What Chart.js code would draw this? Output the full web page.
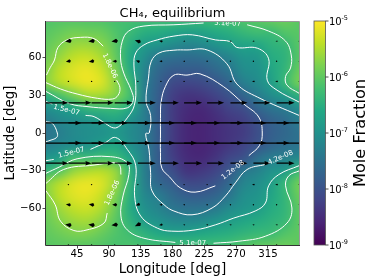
<!DOCTYPE html>
<html>

<head>
  <title>CH4 equilibrium</title>
  <meta charset="UTF-8">
  <style type="text/css">
    html, body { margin: 0; padding: 0; background: #fff; }
    canvas { display: block; }
  </style>
  <script src="https://cdn.jsdelivr.net/npm/chart.js"></script>
</head>

<body>
  <canvas id="graphCanvas" width="374" height="280"></canvas>

  <script>
    const lonTicks = [45, 90, 135, 180, 225, 270, 315];
    const latTicks = [-60, -30, 0, 30, 60];
    const cbarExponents = [-5, -6, -7, -8, -9];

    // log10 mole fraction, rows lat 90 to -90 (step 10), columns lon 0 to 360 (step 20)
    const gridLon = [0, 20, 40, 60, 80, 100, 120, 140, 160, 180, 200, 220, 240, 260, 280, 300, 320, 340, 360];
    const gridLat = [90, 80, 70, 60, 50, 40, 30, 20, 10, 0, -10, -20, -30, -40, -50, -60, -70, -80, -90];
    const logFraction = [
      [-6.12, -6.08, -6.08, -6.1, -6.12, -6.2, -6.22, -6.25, -6.25, -6.27, -6.3, -6.33, -6.25, -6.2, -6.12, -6.05, -5.95, -5.9, -6.05],
      [-6.05, -5.95, -5.85, -5.88, -5.92, -6.12, -6.3, -6.5, -6.55, -6.65, -6.75, -6.72, -6.58, -6.5, -6.35, -6.25, -6.28, -6.1, -6.05],
      [-5.98, -5.8, -5.62, -5.6, -5.72, -6.05, -6.5, -6.82, -6.95, -7.1, -7.2, -7.15, -6.98, -6.8, -6.68, -6.65, -6.45, -6.35, -6.05],
      [-5.9, -5.62, -5.38, -5.32, -5.52, -5.98, -6.6, -7.05, -7.45, -7.55, -7.6, -7.55, -7.42, -7.2, -6.95, -6.92, -6.55, -6.42, -6.05],
      [-5.8, -5.4, -5.2, -5.12, -5.32, -5.82, -6.55, -7.2, -7.65, -7.85, -7.85, -7.85, -7.65, -7.45, -7.08, -7.0, -6.65, -6.38, -5.92],
      [-5.74, -5.45, -5.25, -5.12, -5.22, -5.7, -6.32, -7.28, -7.75, -8.1, -8.15, -8.1, -7.95, -7.7, -7.3, -7.1, -6.78, -6.32, -5.82],
      [-6.5, -6.15, -5.82, -5.55, -5.55, -5.75, -6.2, -7.32, -7.82, -8.25, -8.4, -8.35, -8.2, -7.98, -7.7, -7.35, -7.05, -6.82, -6.45],
      [-7.0, -6.85, -6.6, -6.35, -6.3, -6.29, -6.55, -7.3, -7.85, -8.3, -8.5, -8.55, -8.4, -8.2, -8.05, -7.7, -7.45, -7.32, -7.0],
      [-7.35, -7.15, -7.05, -6.95, -6.8, -6.65, -7.0, -7.3, -7.85, -8.3, -8.55, -8.6, -8.5, -8.35, -8.25, -8.0, -7.75, -7.6, -7.3],
      [-7.5, -7.3, -7.12, -7.05, -7.0, -6.9, -7.1, -7.32, -7.85, -8.3, -8.55, -8.6, -8.5, -8.4, -8.3, -8.05, -7.8, -7.65, -7.5],
      [-7.3, -7.15, -7.05, -6.95, -6.72, -6.6, -7.0, -7.3, -7.85, -8.3, -8.55, -8.6, -8.5, -8.35, -8.2, -7.95, -7.7, -7.55, -7.45],
      [-6.9, -6.75, -6.2, -6.28, -6.2, -6.28, -6.65, -7.28, -7.85, -8.25, -8.5, -8.55, -8.4, -8.15, -8.0, -7.55, -7.3, -7.25, -7.1],
      [-6.4, -6.1, -5.65, -5.5, -5.45, -5.65, -6.45, -7.28, -7.8, -8.05, -8.4, -8.35, -8.2, -7.92, -7.45, -7.25, -6.98, -6.82, -6.29],
      [-5.74, -5.45, -5.2, -5.12, -5.22, -5.62, -6.42, -7.25, -7.65, -7.83, -8.1, -8.1, -7.97, -7.65, -7.2, -7.05, -6.78, -6.33, -5.85],
      [-5.78, -5.4, -5.2, -5.15, -5.35, -5.8, -6.5, -7.15, -7.32, -7.62, -7.8, -7.82, -7.7, -7.45, -7.05, -6.95, -6.65, -6.35, -5.9],
      [-5.88, -5.6, -5.38, -5.32, -5.5, -5.95, -6.55, -7.0, -7.2, -7.43, -7.5, -7.48, -7.38, -7.1, -6.95, -6.82, -6.55, -6.38, -6.0],
      [-5.95, -5.75, -5.6, -5.55, -5.72, -6.05, -6.45, -6.82, -6.98, -7.12, -7.15, -7.1, -6.95, -6.8, -6.65, -6.55, -6.45, -6.32, -6.0],
      [-6.0, -5.9, -5.8, -5.8, -5.95, -6.12, -6.25, -6.45, -6.6, -6.72, -6.7, -6.62, -6.55, -6.5, -6.4, -6.32, -6.29, -6.1, -6.0],
      [-6.05, -6.03, -6.03, -6.05, -6.1, -6.18, -6.15, -6.2, -6.25, -6.25, -6.28, -6.25, -6.25, -6.2, -6.1, -6.0, -5.95, -5.9, -6.0]
    ];

    // contour tracings [lon, lat]
    const contour18North = [[1.6, 46], [7, 52], [13, 58], [18, 68], [31, 74], [50, 76], [69, 75], [82, 69]];
    const contour18NorthB = [[101, 42], [105.6, 36], [103, 30], [95, 27], [73.5, 27.6], [45, 31], [21.5, 35], [1, 40]];
    const contour18SouthA = [[1, -40], [26, -29], [69, -25.5], [99.5, -23.6], [105.6, -26], [107, -33]];
    const contour18SouthB = [[87.6, -63.6], [83, -71.6], [59, -77], [40.4, -77.5], [21.5, -70], [14, -57], [1, -46]];
    const contour51North = [[1, 33], [34.7, 23.3], [59, 21], [92, 19.6], [116, 20], [124.5, 26], [121.6, 34], [111, 47.6], [106.5, 59.6], [109, 73], [118, 81], [139.6, 85], [182, 86], [224, 87.4]];
    const contour51NorthB = [[285.6, 86], [316, 81], [340, 73], [348, 62], [347, 51.6], [340, 45], [342, 38], [359, 31.6]];
    const contour51SouthA = [[1, -32], [20, -27], [45, -20.5], [92, -18.8], [116, -23.6], [118.3, -33], [110, -50], [107, -66], [116, -77], [139.6, -83.6], [184, -87]];
    const contour51SouthB = [[238, -87.6], [274, -86], [311.5, -82], [342, -71.6], [349, -59.6], [340, -42], [344.6, -34], [359.7, -30]];
    const contour15NorthA = [[1, 25], [10, 23]];
    const contour15NorthB = [[57, 14], [69, 13], [85, 7.6], [97, 4], [105.6, 5.8], [116, 12], [126, 22], [128, 38], [125.4, 54], [128, 63.6], [139.6, 70], [158.5, 74], [182, 77], [208, 78], [240.6, 74], [262, 72.6], [271, 68], [300, 67.4], [316, 59], [314, 42], [328, 34], [359, 24.6]];
    const contour15SouthA = [[1, -22], [12, -21]];
    const contour15SouthB = [[64, -13], [85, -7.6], [99.5, -3.6], [116, -13], [128, -26], [126.4, -50], [135, -66], [158.5, -75.6], [179, -78], [212, -77], [240.6, -73], [266.7, -67.6], [297, -62], [311.5, -55.6], [316, -42], [330.5, -33], [359, -26]];
    const contour42North = [[359, 14], [300, 28.6], [271, 39], [257, 55], [229, 66], [200.5, 66], [182, 65.8], [161, 63.6], [150, 57], [146, 43.6], [142.6, 25], [149, 14], [147, 0], [142, -0.5], [146.7, -13], [149, -31.6], [151, -46], [168, -57], [182, -62], [207.6, -65], [236, -59.6], [255, -50], [269, -39.6], [285.6, -29], [311.5, -25]];
    const contour42Loop = [[1, 9], [10, 7.6], [17, 0], [16, -3.6], [5, -6.2], [1, -7]];
    const contour12North = [[240.6, -42], [212, -47], [191, -43.6], [176, -35], [165, -28], [163, -15.6], [163, 0], [163, 11.6], [164, 25], [170, 37], [182, 46], [200.5, 46], [219, 47], [252.5, 36.7], [281, 23], [302, 12.7], [307, 0], [303, -10], [288, -18]];
    const contourLines = [contour18North, contour18NorthB, contour18SouthA, contour18SouthB, contour51North, contour51NorthB,
      contour51SouthA, contour51SouthB, contour15NorthA, contour15NorthB, contour15SouthA, contour15SouthB,
      contour42North, contour42Loop, contour12North];

    const labelText = ['1.5e-07', '1.5e-07', '1.8e-06', '1.8e-06', '5.1e-07', '5.1e-07', '1.2e-08', '4.2e-08'];
    const labelLon = [30, 37, 91.4, 94.7, 258, 208.6, 265.7, 332.8];
    const labelLat = [18.2, -15.6, 53.4, -47.6, 87, -87.6, -29.4, -19.6];
    const labelAngle = [14, -14, 65, -65, 2, 0, -38, -24];

    // winds, rows windLat, columns windLon
    const windLon = [0, 32.7, 65.5, 98.2, 131, 163.6, 196.4, 229, 262, 294.5, 327.3, 360];
    const windLat = [89, 73, 57, 41, 24, 8, -8, -24, -41, -57, -73, -89];
    const windU = [
      [.1, .1, .1, .1, .1, .1, .1, .1, .1, .1, .1, .1],
      [.1, .65, .65, .65, .6, .35, .22, .22, .22, .22, .22, .3],
      [.1, .5, .55, .45, .4, .3, .2, .18, .18, .18, .18, .3],
      [.1, .15, .15, .15, .15, .15, .15, .18, .28, .28, .28, .3],
      [2.3, 2.3, 2.2, 1.8, 1.8, 1.8, 1.8, 1.7, 1.7, 1.7, 1.8, 1.8],
      [3.6, 3.6, 3.6, 3.6, 3.7, 3.6, 3.6, 3.6, 3.6, 3.6, 3.6, 3.6],
      [3.6, 3.6, 3.6, 3.6, 3.7, 3.6, 3.6, 3.6, 3.6, 3.6, 3.6, 3.6],
      [2.3, 2.3, 2.2, 1.8, 1.8, 1.8, 1.8, 1.7, 1.7, 1.7, 1.8, 1.8],
      [.1, .15, .15, .15, .15, .15, .15, .18, .28, .28, .28, .3],
      [.1, .5, .55, .5, .45, .3, .2, .18, .18, .18, .18, .3],
      [.1, .65, .65, .65, .6, .35, .22, .22, .22, .22, .22, .3],
      [.1, .1, .1, .1, .1, .1, .1, .1, .1, .1, .1, .1]
    ];
    const windV = [
      [0, 0, 0, 0, 0, 0, 0, 0, 0, 0, 0, 0],
      [0, .08, .08, .08, -.2, -.1, 0, 0, 0, 0, 0, 0],
      [0, .1, .08, 0, -.15, 0, 0, 0, 0, 0, 0, 0],
      [0, 0, 0, 0, 0, 0, 0, 0, 0, 0, 0, 0],
      [0, 0, 0, 0, 0, 0, 0, 0, 0, 0, 0, 0],
      [0, 0, 0, 0, 0, 0, 0, 0, 0, 0, 0, 0],
      [0, 0, 0, 0, 0, 0, 0, 0, 0, 0, 0, 0],
      [0, 0, 0, 0, 0, 0, 0, 0, 0, 0, 0, 0],
      [0, 0, 0, 0, 0, 0, 0, 0, 0, 0, 0, 0],
      [0, -.08, -.08, 0, .15, 0, 0, 0, 0, 0, 0, 0],
      [0, -.08, -.08, .08, .3, .1, 0, 0, 0, 0, 0, 0],
      [0, 0, 0, 0, 0, 0, 0, 0, 0, 0, 0, 0]
    ];

    const viridis = ['#440154', '#482475', '#414487', '#355f8d', '#2a788e', '#21918c', '#22a884', '#44bf70', '#7ad151', '#bddf26', '#fde725'];
    const fontFamily = '"DejaVu Sans"';

    function hexRgb(h) {
      return [1, 3, 5].map(function(i) { return parseInt(h.substr(i, 2), 16); });
    }

    function viridisRgb(t) {
      t = Math.max(0, Math.min(1, t)) * (viridis.length - 1);
      let i = Math.min(Math.floor(t), viridis.length - 2);
      let a = hexRgb(viridis[i]), b = hexRgb(viridis[i + 1]);
      return a.map(function(v, k) { return v + (b[k] - v) * (t - i); });
    }

    const heatmapPlugin = {
      id: 'heatmap',
      beforeDatasetsDraw: function(chart) {
        let ctx = chart.ctx, x = chart.scales.x, y = chart.scales.y, area = chart.chartArea;
        let nx = gridLon.length, ny = gridLat.length;
        let off = document.createElement('canvas');
        off.width = nx;
        off.height = ny;
        let octx = off.getContext('2d');
        let img = octx.createImageData(nx, ny);
        for (let j = 0; j < ny; j++) {
          for (let i = 0; i < nx; i++) {
            let c = viridisRgb((logFraction[j][i] + 9) / 4);
            let p = (j * nx + i) * 4;
            img.data[p] = c[0];
            img.data[p + 1] = c[1];
            img.data[p + 2] = c[2];
            img.data[p + 3] = 255;
          }
        }
        octx.putImageData(img, 0, 0);
        ctx.save();
        ctx.beginPath();
        ctx.rect(area.left, area.top, area.width, area.height);
        ctx.clip();
        ctx.imageSmoothingEnabled = true;
        ctx.imageSmoothingQuality = 'high';
        let x0 = x.getPixelForValue(-10), x1 = x.getPixelForValue(370);
        let y0 = y.getPixelForValue(95), y1 = y.getPixelForValue(-95);
        ctx.drawImage(off, x0, y0, x1 - x0, y1 - y0);
        ctx.restore();
      }
    };

    function drawArrow(ctx, px, py, dx, dy) {
      let len = Math.hypot(dx, dy);
      ctx.save();
      ctx.translate(px, py);
      ctx.rotate(Math.atan2(dy, dx));
      ctx.beginPath();
      if (len < 2) {
        ctx.arc(0, 0, 0.7, 0, Math.PI * 2);
      } else if (len < 8) {
        let hw = Math.min(2.2, len * 0.33);
        ctx.moveTo(-len / 2, 0);
        ctx.lineTo(len * 0.25, hw);
        ctx.lineTo(len / 2, 0);
        ctx.lineTo(len * 0.25, -hw);
      } else {
        ctx.moveTo(0, -0.65);
        ctx.lineTo(len - 5.5, -0.65);
        ctx.lineTo(len - 6, -2.3);
        ctx.lineTo(len, 0);
        ctx.lineTo(len - 6, 2.3);
        ctx.lineTo(len - 5.5, 0.65);
        ctx.lineTo(0, 0.65);
      }
      ctx.closePath();
      ctx.fill();
      ctx.restore();
    }

    const overlayPlugin = {
      id: 'overlay',
      afterDatasetsDraw: function(chart) {
        let ctx = chart.ctx, x = chart.scales.x, y = chart.scales.y, area = chart.chartArea;
        ctx.save();
        ctx.beginPath();
        ctx.rect(area.left, area.top, area.width, area.height);
        ctx.clip();
        ctx.fillStyle = '#000';
        windLat.forEach(function(lat, j) {
          windLon.forEach(function(lon, i) {
            drawArrow(ctx, x.getPixelForValue(lon), y.getPixelForValue(lat), windU[j][i] * 10, -windV[j][i] * 10);
          });
        });
        ctx.fillStyle = '#fff';
        ctx.font = '7px ' + fontFamily;
        ctx.textAlign = 'center';
        ctx.textBaseline = 'middle';
        labelText.forEach(function(t, i) {
          ctx.save();
          ctx.translate(x.getPixelForValue(labelLon[i]), y.getPixelForValue(labelLat[i]));
          ctx.rotate(labelAngle[i] * Math.PI / 180);
          ctx.fillText(t, 0, 0);
          ctx.restore();
        });
        ctx.restore();

        // frame
        ctx.save();
        ctx.lineWidth = 1;
        ctx.strokeStyle = '#999';
        ctx.beginPath();
        ctx.moveTo(area.left, area.top + 0.5);
        ctx.lineTo(area.right + 0.5, area.top + 0.5);
        ctx.lineTo(area.right + 0.5, area.bottom);
        ctx.stroke();
        ctx.strokeStyle = '#333';
        ctx.beginPath();
        ctx.moveTo(area.left - 0.5, area.top);
        ctx.lineTo(area.left - 0.5, area.bottom + 0.5);
        ctx.lineTo(area.right + 1, area.bottom + 0.5);
        ctx.stroke();
        ctx.restore();

        // title
        ctx.save();
        ctx.fillStyle = '#000';
        ctx.font = '13px ' + fontFamily;
        ctx.textAlign = 'center';
        ctx.textBaseline = 'alphabetic';
        ctx.fillText('CH₄, equilibrium', (area.left + area.right) / 2, 17);
        ctx.restore();

        // colorbar
        let cx = 314, cw = 11.5;
        let grad = ctx.createLinearGradient(0, area.bottom, 0, area.top);
        viridis.forEach(function(c, i) { grad.addColorStop(i / (viridis.length - 1), c); });
        ctx.save();
        ctx.fillStyle = grad;
        ctx.fillRect(cx, area.top, cw, area.height);
        ctx.strokeStyle = '#555';
        ctx.lineWidth = 0.8;
        ctx.strokeRect(cx, area.top, cw, area.height);
        ctx.fillStyle = '#000';
        ctx.textBaseline = 'middle';
        cbarExponents.forEach(function(e) {
          let py = area.bottom - (e + 9) / 4 * area.height;
          ctx.beginPath();
          ctx.moveTo(cx + cw, py);
          ctx.lineTo(cx + cw + 3, py);
          ctx.strokeStyle = '#222';
          ctx.stroke();
          ctx.textAlign = 'left';
          ctx.font = '10px ' + fontFamily;
          ctx.fillText('10', cx + cw + 3.5, py + 1);
          ctx.font = '6.5px ' + fontFamily;
          ctx.fillText(String(e), cx + cw + 16, py - 3);
        });
        ctx.translate(361, (area.top + area.bottom) / 2);
        ctx.rotate(-Math.PI / 2);
        ctx.font = '16.2px ' + fontFamily;
        ctx.textAlign = 'center';
        ctx.fillText('Mole Fraction', 0, 0);
        ctx.restore();
      }
    };

    const datasets = contourLines.map(function(line) {
      return {
        data: line.map(function(p) { return { x: p[0], y: p[1] }; }),
        showLine: true,
        borderColor: '#ffffff',
        borderWidth: 1,
        pointRadius: 0,
        tension: 0.4,
        fill: false
      };
    });

    new Chart(document.getElementById('graphCanvas'), {
      type: 'scatter',
      data: { datasets: datasets },
      plugins: [heatmapPlugin, overlayPlugin],
      options: {
        responsive: false,
        animation: false,
        events: [],
        layout: { padding: { top: 21, right: 75, bottom: 0, left: 0 } },
        plugins: { legend: { display: false }, tooltip: { enabled: false } },
        scales: {
          x: {
            type: 'linear',
            min: 1,
            max: 359,
            afterFit: function(s) { s.height = 35; },
            afterBuildTicks: function(s) { s.ticks = lonTicks.map(function(v) { return { value: v }; }); },
            grid: { drawOnChartArea: false, color: '#222', tickLength: 3.5, tickWidth: 0.8 },
            border: { display: false },
            ticks: { color: '#000', font: { family: fontFamily, size: 10.2 }, padding: 0, maxRotation: 0, autoSkip: false },
            title: { display: true, text: 'Longitude [deg]', color: '#000', font: { family: fontFamily, size: 13.5 }, padding: { top: 0, bottom: 2 } }
          },
          y: {
            type: 'linear',
            min: -89,
            max: 89,
            afterFit: function(s) { s.width = 46; },
            afterBuildTicks: function(s) { s.ticks = latTicks.map(function(v) { return { value: v }; }); },
            grid: { drawOnChartArea: false, color: '#222', tickLength: 3.5, tickWidth: 0.8 },
            border: { display: false },
            ticks: {
              color: '#000',
              font: { family: fontFamily, size: 10.2 },
              padding: 1,
              autoSkip: false,
              callback: function(v) { return v < 0 ? '\u2212' + Math.abs(v) : String(v); }
            },
            title: { display: true, text: 'Latitude [deg]', color: '#000', font: { family: fontFamily, size: 13.4 }, padding: { top: 2, bottom: 0 } }
          }
        }
      }
    });
  </script>

</body>

</html>
